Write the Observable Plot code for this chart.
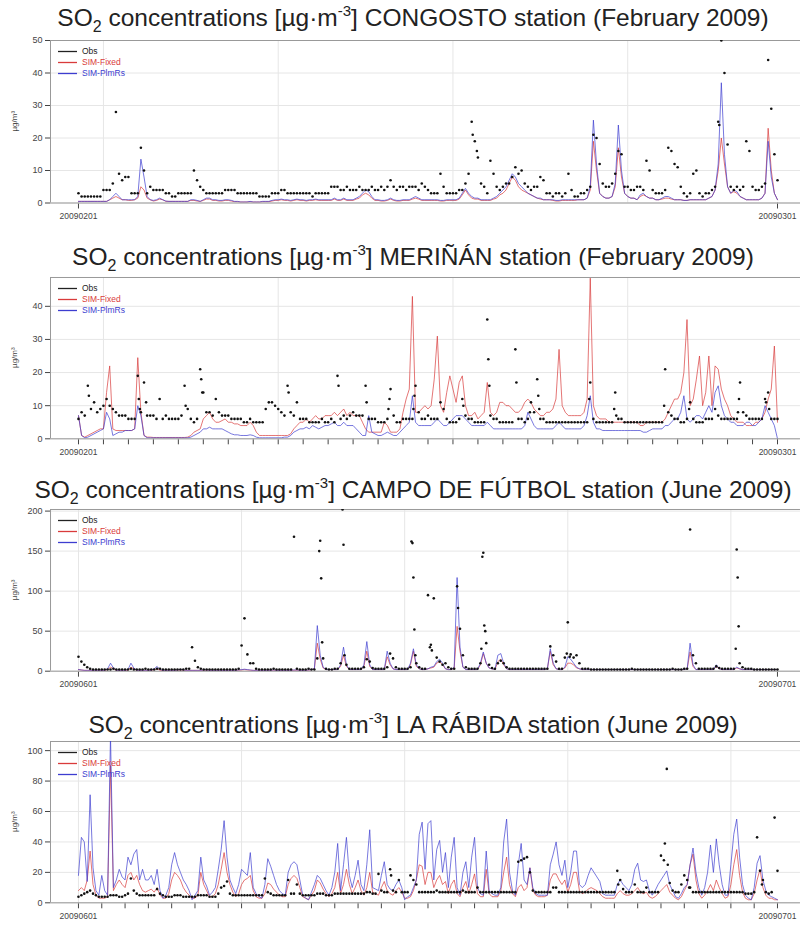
<!DOCTYPE html>
<html><head><meta charset="utf-8">
<script src="https://cdn.jsdelivr.net/npm/d3@7"></script>
<script src="https://cdn.jsdelivr.net/npm/@observablehq/plot@0.6"></script>
<style>
body{margin:0;background:#fff;font-family:"Liberation Sans",Arial,Helvetica,sans-serif;}
#root{position:relative;width:800px;height:926px;overflow:hidden;background:#fff;}
.title{position:absolute;left:0;width:826px;text-align:center;font-size:24.5px;line-height:26px;color:#222;white-space:nowrap;}
.title sub{font-size:16px;line-height:0;vertical-align:baseline;position:relative;top:6px;}
.title sup{font-size:15px;line-height:0;vertical-align:baseline;position:relative;top:-10px;}
svg g[aria-label^="x-axis"] text{font-size:8.5px;}
</style>
</head><body><div id="root"></div>
<script>
// ---------- tick labels / legend ----------
const febTickLabels = ["20090201", "20090301"];
const junTickLabels = ["20090601", "20090701"];
const yAxisTitle = "µg/m³";
const legendLabels = ["Obs", "SIM-Fixed", "SIM-PlmRs"];
const legendColors = ["#222222", "#d93b3b", "#3d3dd0"];

// ---------- CONGOSTO (Feb 2009), 3-hourly values ----------
const congostoObs = [
3,2,2,2,2,2,2,2, 4,4,4,6,28,9,7,8, 8,3,3,3,17,10,3,5, 4,4,4,4,3,3,2,2,
3,3,3,3,3,10,7,5, 4,3,3,3,3,3,3,4, 4,4,4,3,3,3,3,3, 3,3,2,2,2,2,3,3,
3,4,4,3,3,3,3,3, 3,3,3,2,3,3,3,3, 3,5,5,5,4,4,5,4, 4,4,5,4,4,4,5,4,
4,5,4,5,7,5,4,5, 5,4,5,5,5,4,6,5, 4,3,3,3,9,5,3,3, 3,3,4,4,6,9,25,19,
14,6,5,3,13,9,5,4, 5,6,6,8,11,9,10,6, 5,4,5,5,8,7,3,3, 2,3,3,2,3,9,4,2,
2,3,3,4,5,21,20,12, 6,5,5,6,9,16,15,5, 5,4,4,5,5,4,13,10, 4,3,3,3,4,17,16,12,
11,5,3,2,3,9,10,3, 2,3,3,4,5,25,50,40, 18,5,4,5,4,5,19,16, 5,4,4,5,6,44,29,15,
7];
const congostoObsExtra = [[379,21],[383,16],[616,24]];
const congostoFixed = [
0.5,0.5,0.5,0.5,0.5,0.5,0.5,0.5, 0.5,0.5,1,1.5,2,1.5,1,1, 0.8,0.8,1,1.5,5,4,1.5,1, 0.6,0.8,1.2,1,0.5,0.5,0.5,0.5,
0.5,0.5,0.5,0.5,0.8,0.8,0.6,0.5, 0.8,1.2,1.2,0.8,0.8,0.6,0.6,0.8, 0.8,0.6,0.4,0.4,0.3,0.3,0.3,0.4, 0.3,0.3,0.3,0.4,0.4,0.4,0.6,0.8,
0.8,1,0.8,0.8,0.6,0.8,1,0.8, 0.8,0.6,0.8,0.8,1,0.8,0.8,0.8, 0.8,0.8,1.2,0.8,0.8,1.2,0.8,0.8, 0.8,1.2,1.5,2.5,3,2.5,1.5,0.8,
0.8,0.6,0.6,0.8,1.2,0.8,0.6,0.6, 0.8,0.8,0.8,1.2,1.5,1.2,0.8,0.8, 0.8,0.8,0.8,0.8,0.6,0.6,0.8,0.8, 0.8,0.8,1.2,2.5,4,2.5,1.5,1.2,
1.2,0.8,0.8,0.8,0.8,1.2,1.5,2.5, 3,4,6,8,7,5,4,3.5, 3,2.5,2,1.5,1.2,1,1,1, 0.8,0.6,0.6,0.8,0.8,0.8,0.8,0.8,
1,1,1,1.5,4,19,10,3, 2,1.5,1.5,2,5,17,8,3, 2,1.5,1.5,1,2,2.5,2,1.5, 1.5,1,1,1.2,1.5,1.5,1.2,1,
1,1,0.8,0.8,1,1,1,1, 1,1,1.5,2,4,10,20,12, 5,3,3.5,3,2,1.5,1,1, 1,1,1,1.5,3,23,10,3,
1];
const congostoPlmrs = [
0.5,0.5,0.5,0.5,0.5,0.5,0.5,0.5, 0.5,0.5,1,2,3,2,1,1, 1,1,1,2,13.5,8,2,1, 0.8,1,1.5,1,0.6,0.5,0.5,0.5,
0.5,0.5,0.5,0.5,1,1,0.8,0.5, 1,1.5,1.5,1,1,0.8,0.8,1, 1,0.8,0.5,0.5,0.3,0.3,0.3,0.5, 0.3,0.3,0.3,0.5,0.5,0.5,0.8,1,
1,1.2,1,1,0.8,1,1.2,1, 1,0.8,1,1,1.2,1,1,1, 1,1,1.5,1,1,1.5,1,1, 1,1.5,2,3,4,3.5,2,1,
1,0.8,0.8,1,1.5,1,0.8,0.8, 1,1,1,1.5,2,1.5,1,1, 1,1,1,1,0.8,0.8,1,1, 1,1,1.5,3,4.5,3,2,1.5,
1.5,1,1,1,1,1.5,2,3, 4,5,7,9,8,6,5,4, 3,2.5,2,1.5,1.5,1,1,1, 1,0.8,0.8,1,1,1,1,1,
1,1,1,1.5,5,25.5,12,3, 2,1.5,1.5,2,6,24,10,3, 2,1.5,1.5,1,2.5,3,2,1.5, 1.5,1,1,1.5,2,2,1.5,1,
1,1,0.8,0.8,1,1,1,1, 1,1,1.5,2,4,12,37,15, 5,3,4,3.5,2,1.5,1,1, 1,1,1,1.5,3,19,8,3,
1];

// ---------- MERIÑÁN (Feb 2009) ----------
const merinanObs = [
6,8,7,16,9,11,8,9, 10,12,10,9,8,7,7,7, 6,6,6,19,8,17,7,7, 7,6,12,6,7,6,6,6,
6,7,16,9,6,5,6,21, 14,8,8,7,12,8,7,7, 7,6,6,6,6,5,5,6, 5,5,5,5,9,11,11,10,
9,8,7,16,8,7,11,6, 6,6,5,5,5,5,6,5, 5,6,5,19,6,7,6,7, 8,7,7,7,16,6,6,6,
5,5,5,6,15,7,5,5, 6,6,6,6,16,8,6,6, 7,6,6,6,11,9,6,5, 5,5,6,12,7,6,6,5,
5,5,5,36,7,6,6,5, 5,5,5,5,27,6,6,5, 6,11,8,18,6,6,5,5, 5,5,5,5,5,5,5,5,
5,5,5,5,17,6,5,5, 5,5,5,5,14,6,6,5, 5,5,5,5,5,5,5,5, 5,5,5,5,21,8,7,6,
6,5,5,6,11,6,5,5, 5,6,6,6,9,7,6,6, 6,6,6,6,17,8,7,6, 6,6,6,6,12,14,6,6,
6];
const merinanObsExtra = [[10,13],[58,12],[59,9],[65,11],[103,10],[118,18],[119,14],[202,14],[250,16],[277,11],
[298,9],[299,12],[322,9],[323,13],[370,10],[394,24],[395,16],[421,17],[434,8],[442,13],[443,9],[491,12],
[515,9],[517,7],[563,10],[587,9],[634,8],[635,12],[661,11],[664,9]];
const merinanFixed = [
7,1,0.5,1,1.5,2,2.5,3, 3,14,22,3,2.5,2.5,2.5,2.5, 2.5,2.5,3,24.5,8,1,0.5,0.5, 0.4,0.4,0.4,0.4,0.4,0.4,0.4,0.4,
0.4,0.4,0.4,0.5,1,2,2.5,3, 6,7,8,6,5,5,5.5,6, 5,5,4.5,4.5,4,4,4,5, 4,2,1,1,1,1,1,1,
1,1,1,1,1.5,3,4,5, 5,6,5,6,7,6,6,7, 7,7,8,7,8,9,7,8, 7,7,7,5,3,2,2,2,
2,2,5,4,2,2,2,3, 8,12,15,43,8,8,9,10, 9,10,18,31,10,8,14,19, 15,11,17,19,10,7,7,8,
6,7,8,17,8,7,8,11, 11,10,10,9,8,8,9,11, 12,11,9,8,7,7,8,8, 9,12,27,10,8,7,7,7,
7,7,8,12,48.5,10,7,6, 6,6,5,5,5,5,5,5, 5,5,5,5,4,4,5,5, 5,5,5,5,6,8,10,12,
12,14,20,36,10,12,18,25, 10,14,25,10,22,21,15,12, 10,7,6,5,5,5,4,4, 4,5,5,6,8,12,15,28,
5];
const merinanPlmrs = [
7,1,0.3,0.5,1,1.5,2,2.5, 3,8,6,1,1.5,2,2,2.5, 2.5,2.5,3,10,7,1,0.3,0.3, 0.3,0.3,0.3,0.3,0.3,0.3,0.3,0.3,
0.3,0.3,0.3,0.3,0.5,1,1.5,2, 3,3,3.5,3,3,3,3,2.5, 2,1.5,1.2,1.2,1,1,1,1.2, 1,0.5,0.3,0.3,0.3,0.3,0.3,0.3,
0.3,0.3,0.5,0.5,1,2,2.5,3, 3,3.5,3,4,3.5,3,3.5,4, 4,4.5,5,4,4,5,4,4, 4,3,2,1,1,7,2,1.5,
1,1,1.5,2,1.5,1,1,2, 3,4,5,13,5,4,4,4, 4,4,5,6,5,4,4,5, 6,7,7,7,6,5,4,4,
4,4,4,5,4,3,3,3, 3,3,3,3,3,3,3,4, 8,6,4,3,3,3,3,3, 3,4,5,4,3,3,3,3,
3,3,4,7,13,5,3,3, 2.5,2.5,2.5,2.5,2.5,2.5,2.5,2.5, 2.5,2.5,2.5,2.5,2.5,2,2,2.5, 3,3,3,3,4,4,5,6,
6,8,13,6,5,6,7,7, 6,8,10,8,14,16,10,7, 6,5,5,4,4,4,5,5, 4,4,5,6,10,8,6,4,
0];

// ---------- CAMPO DE FÚTBOL (June 2009) ----------
const campoObs = [
18,12,8,5,3,2,2,2, 2,2,2,2,3,2,2,2, 2,2,3,2,2,2,2,3, 2,2,2,3,3,2,2,2, 2,2,2,2,2,3,3,30,
13,5,3,2,2,2,2,2, 2,2,2,2,2,2,2,3, 32,66,21,10,10,3,2,2, 2,2,2,3,2,2,2,2, 2,2,168,3,2,2,2,3,
2,2,16,163,16,3,2,2, 3,3,10,158,8,3,3,3, 3,3,5,15,12,4,3,3, 3,3,5,22,16,5,3,3, 3,3,5,117,10,5,3,3,
95,33,91,17,12,8,10,5, 3,3,106,53,20,5,3,3, 3,3,10,148,35,8,4,3, 10,13,10,5,3,3,3,3, 3,3,3,3,3,3,3,3,
3,3,31,20,12,3,3,17, 61,21,17,20,10,3,3,3, 2,2,2,2,2,2,2,2, 2,2,2,2,2,2,3,2, 2,2,2,2,2,2,2,2,
2,2,2,2,3,2,2,2, 3,3,177,20,10,3,3,3, 3,3,3,6,4,3,3,3, 3,3,152,10,5,3,3,3, 2,2,2,2,2,2,2,2,
2];
const campoObsExtra = [[248,150],[250,116],[251,36],[272,202],[274,20],[343,162],[344,160],[346,52],[347,20],
[362,30],[364,26],[391,79],[415,28],[416,143],[418,57],[419,50],[503,22],[506,18],[677,28],[679,117],[680,56]];
const campoFixed = [
2,1.5,1,1,1,1,1,1, 1,1,2,5,3,1,1,1, 1,1,5,3,1,1,1,1, 1,1,2,3,1,1,1,1, 1,1,1.2,1.5,1.2,1,1,1,
1,1,1,1.2,1.2,1,1,1, 1,1,1,1,1,1,1,1.2, 1.5,2,1.5,1.2,1,1,1,1, 1,1,1,1.2,1,1,1,1, 1,1,1.2,1.2,1,1,1,1.2,
2,3,35,15,4,2,2,2, 2,2,6,20,6,2,2,2, 2,2,6,25,6,2,2,2, 2,2,18,8,3,2,2,2, 2,2,8,25,6,3,2,2,
3,4,5,10,12,8,3,2, 2,4,56,25,5,2,2,2, 2,2,8,22,10,4,3,2, 12,15,8,3,2,2,2,2, 2,2,2,2,2,2,2,2,
2,3,25,8,3,2,2,4, 10,10,8,4,3,2,2,2, 2,2,2,2,2,2,2,2, 2,2,2,2,2,2,2,2, 2,2,2,2,2,2,2,2,
2,2,2,2,2,2,2,2, 2,3,24,6,2,2,2,2, 2,2,2,6,3,2,2,2, 2,2,4,3,2,2,2,2, 2,2,2,2,2,2,2,2,
2];
const campoPlmrs = [
2,1.5,1,1,1,1,1,1, 1,1,3,10,4,1,1,1, 1,2,10,4,1,1,1,1, 1,1,3,6,2,1,1,1, 1,1,1.5,2,1.5,1,1,1,
1,1,1,1.5,1.5,1,1,1, 1,1,1,1,1,1,1,1.5, 2,2.5,2,1.5,1,1,1,1, 1,1,1,1.5,1,1,1,1, 1,1,1.5,1.5,1,1,1,1.5,
2,3,57,20,5,2,2,2, 2,2,8,30,8,2,2,2, 2,2,8,37,8,2,2,2, 2,2,25,10,3,2,2,2, 2,2,10,28,8,3,2,2,
3,5,6,12,15,10,3,2, 2,5,117,30,5,2,2,2, 2,2,10,24,10,4,3,2, 20,22,10,3,2,2,2,2, 2,2,2,2,2,2,2,2,
2,3,28,10,3,2,2,5, 18,15,10,5,3,2,2,2, 2,2,2,2,2,2,2,2, 2,2,2,2,2,2,2,2, 2,2,2,2,2,2,2,2,
2,2,2,2,2,2,2,2, 2,3,35,8,2,2,2,2, 2,2,2,8,3,2,2,2, 2,2,5,3,2,2,2,2, 2,2,2,2,2,2,2,2,
2];

// ---------- LA RÁBIDA (June 2009) ----------
const rabidaObs = [
4,5,6,7,8,6,5,4, 4,4,4,5,5,5,4,4, 5,6,16,8,6,5,5,5, 5,5,5,9,6,5,4,4, 4,5,5,5,4,4,4,4,
4,5,5,5,5,4,4,4, 6,10,11,14,6,5,5,5, 5,5,5,5,5,5,5,5, 16,7,6,5,5,5,5,5, 15,6,6,12,6,5,5,5,
5,5,6,6,6,5,5,5, 6,6,6,6,6,6,6,6, 6,6,6,7,7,6,6,19, 8,7,7,22,8,7,15,7, 7,7,18,15,12,7,7,7,
7,7,7,8,7,7,7,7, 7,7,7,7,8,7,7,7, 7,10,7,7,7,7,7,7, 7,7,7,7,7,7,7,27, 28,29,30,20,8,7,7,7,
7,7,7,10,10,7,7,7, 7,7,7,7,7,7,7,7, 7,7,7,7,7,7,7,7, 7,21,15,9,7,7,7,12, 7,7,7,10,7,7,7,7,
31,28,88,13,8,7,7,12, 18,15,10,7,7,7,7,7, 7,7,7,7,7,7,7,7, 7,7,7,7,7,6,6,6, 7,43,21,15,7,6,7,56,
21];
const rabidaObsExtra = [[322,18],[556,12],[604,39],[607,25],[629,10],[704,12]];
const rabidaFixed = [
8,10,8,15,34,12,5,3, 3,3,4,90,8,12,15,12, 10,18,20,15,18,12,8,7, 8,9,7,10,5,3,3,6, 15,20,18,15,10,7,5,3,
3,5,20,12,8,4,4,6, 12,22,33,20,12,7,4,6, 12,15,16,18,8,4,3,3, 6,13,12,9,7,5,4,4, 12,16,18,16,10,4,3,2,
5,8,15,13,9,6,4,6, 10,20,6,12,22,12,6,10, 15,8,5,10,20,7,6,5, 10,14,8,6,5,8,10,7, 3,3,4,8,15,25,24,12,
20,20,10,15,18,12,14,6, 12,15,6,4,10,14,6,12, 19,6,4,4,22,6,4,4, 4,8,20,30,12,6,4,10, 12,8,10,23,8,5,4,4,
4,5,15,19,19,15,12,15, 7,12,20,20,8,6,7,9, 10,9,8,6,4,3,3,3, 3,6,8,6,5,5,6,8, 10,7,6,7,4,3,4,6,
8,10,12,7,5,3,2,4, 8,12,25,32,15,6,3,5, 8,12,8,15,10,6,3,4, 12,25,35,18,7,3,2,2, 6,15,22,10,5,3,3,2,
2];
const rabidaPlmrs = [
18,43,40,14,71,23,8,5, 18,8,5,110,10,15,22,17, 15,30,25,32,35,15,22,15, 15,18,12,22,8,3,5,10, 25,33,25,20,15,12,8,2,
5,8,30,15,11,5,7,10, 22,35,54,30,15,10,6,12, 22,20,18,33,10,6,4,3, 12,29,24,18,12,8,6,5, 20,25,27,25,15,5,3,2,
7,12,18,16,12,8,5,10, 20,39,8,25,43,18,10,18, 28,12,8,25,48,10,9,8, 18,27,12,9,8,12,15,10, 2,4,5,10,15,45,53,22,
52,54,15,35,41,20,33,10, 30,43,10,5,20,27,10,30, 43,10,6,5,34,8,6,5, 5,10,40,55,20,8,5,25, 39,15,12,23,10,6,5,5,
5,5,25,32,40,25,18,28, 10,20,34,34,12,10,12,18, 23,20,17,14,6,5,5,5, 5,12,15,12,10,8,12,22, 26,15,14,15,8,5,8,12,
15,18,21,12,8,4,3,6, 10,12,25,36,20,10,5,10, 20,38,20,42,25,12,5,5, 25,45,55,30,12,5,3,2, 10,26,31,15,8,5,4,3,
2];

// ---------- panel configuration ----------
const febWeekly = [24, 192, 360, 528];
const junWeekly = [0, 168, 336, 504, 672];
const panels = [
  {station:"CONGOSTO", period:"February 2009", obs:congostoObs, extra:congostoObsExtra, fixed:congostoFixed, plmrs:congostoPlmrs,
   hours:672, xDomain:[-26.9, 694.1], labels:febTickLabels, weekly:febWeekly, daily:false,
   yMax:50, yTicks:[0,10,20,30,40,50], frameTop:39.5, zero:202, titleBase:26},
  {station:"MERIÑÁN", period:"February 2009", obs:merinanObs, extra:merinanObsExtra, fixed:merinanFixed, plmrs:merinanPlmrs,
   hours:672, xDomain:[-26.9, 694.1], labels:febTickLabels, weekly:febWeekly, daily:true,
   yMax:48.7, yTicks:[0,10,20,30,40], frameTop:277, zero:438.3, titleBase:265},
  {station:"CAMPO DE FÚTBOL", period:"June 2009", obs:campoObs, extra:campoObsExtra, fixed:campoFixed, plmrs:campoPlmrs,
   hours:720, xDomain:[-28.8, 743.7], labels:junTickLabels, weekly:junWeekly, daily:false,
   yMax:202, yTicks:[0,50,100,150,200], frameTop:509, zero:670.7, titleBase:498},
  {station:"LA RÁBIDA", period:"June 2009", obs:rabidaObs, extra:rabidaObsExtra, fixed:rabidaFixed, plmrs:rabidaPlmrs,
   hours:720, xDomain:[-28.8, 743.7], labels:junTickLabels, weekly:junWeekly, daily:true,
   yMax:106, yTicks:[0,20,40,60,80,100], frameTop:741, zero:902.3, titleBase:733}
];

const root = document.getElementById("root");
const toRec = arr => arr.map((v, k) => ({h: k * 3, v}));

panels.forEach(p => {
  const t = document.createElement("div");
  t.className = "title";
  t.style.top = (p.titleBase - 21) + "px";
  t.innerHTML = `SO<sub>2</sub> concentrations [µg·m<sup>-3</sup>] ${p.station} station (${p.period})`;
  root.appendChild(t);

  const mt = 6, mb = 28;
  const plotH = p.zero - p.frameTop;
  const obsData = toRec(p.obs).concat(p.extra.map(([h, v]) => ({h, v})));
  const fixedData = toRec(p.fixed);
  const plmrsData = toRec(p.plmrs);
  const xTicks = p.daily ? d3.range(0, p.hours + 1, 24) : [0, p.hours];
  const fmt = d => d === 0 ? p.labels[0] : (d === p.hours ? p.labels[1] : "");

  const svg = Plot.plot({
    width: 800,
    height: plotH + mt + mb,
    marginTop: mt, marginBottom: mb, marginLeft: 50, marginRight: 0,
    style: {fontFamily: '"Liberation Sans", Arial, sans-serif', fontSize: "9px", color: "#444", background: "transparent", overflow: "visible"},
    x: {domain: p.xDomain, ticks: xTicks, tickFormat: fmt, tickSize: 6, tickPadding: 4, label: null},
    y: {domain: [0, p.yMax], ticks: p.yTicks, tickSize: 5, tickPadding: 3, label: null},
    marks: [
      Plot.ruleY(p.yTicks, {stroke: "#e6e6e6"}),
      Plot.ruleX(p.weekly, {stroke: "#e6e6e6"}),
      Plot.ruleY([p.yMax], {stroke: "#999"}),
      Plot.ruleX([p.xDomain[0]], {stroke: "#999"}),
      Plot.ruleY([0], {stroke: "#999"}),
      Plot.line(fixedData, {x: "h", y: "v", stroke: legendColors[1], strokeWidth: 1, strokeOpacity: 0.7, clip: true}),
      Plot.line(plmrsData, {x: "h", y: "v", stroke: legendColors[2], strokeWidth: 1, strokeOpacity: 0.7, clip: true}),
      Plot.dot(obsData, {x: "h", y: "v", r: 1.3, fill: "#111", stroke: "none", clip: true})
    ]
  });
  svg.style.position = "absolute";
  svg.style.left = "0px";
  svg.style.top = (p.frameTop - mt) + "px";

  const sel = d3.select(svg);
  sel.append("text")
    .attr("transform", `translate(14,${mt + plotH / 2}) rotate(-90)`)
    .attr("text-anchor", "middle").attr("dy", "0.35em")
    .attr("font-size", "8px").attr("fill", "#444")
    .text(yAxisTitle);

  const g = sel.append("g").attr("font-size", "8.5px").attr("text-anchor", "start")
    .attr("font-family", '"Liberation Sans", Arial, sans-serif');
  legendLabels.forEach((lab, i) => {
    const y = mt + 11.5 + i * 11;
    g.append("line").attr("x1", 58).attr("x2", 77).attr("y1", y).attr("y2", y)
      .attr("stroke", legendColors[i]).attr("stroke-width", 1.3);
    g.append("text").attr("x", 82).attr("y", y).attr("dy", "0.35em").attr("fill", legendColors[i]).text(lab);
  });
  root.appendChild(svg);
});
</script>
</body></html>
